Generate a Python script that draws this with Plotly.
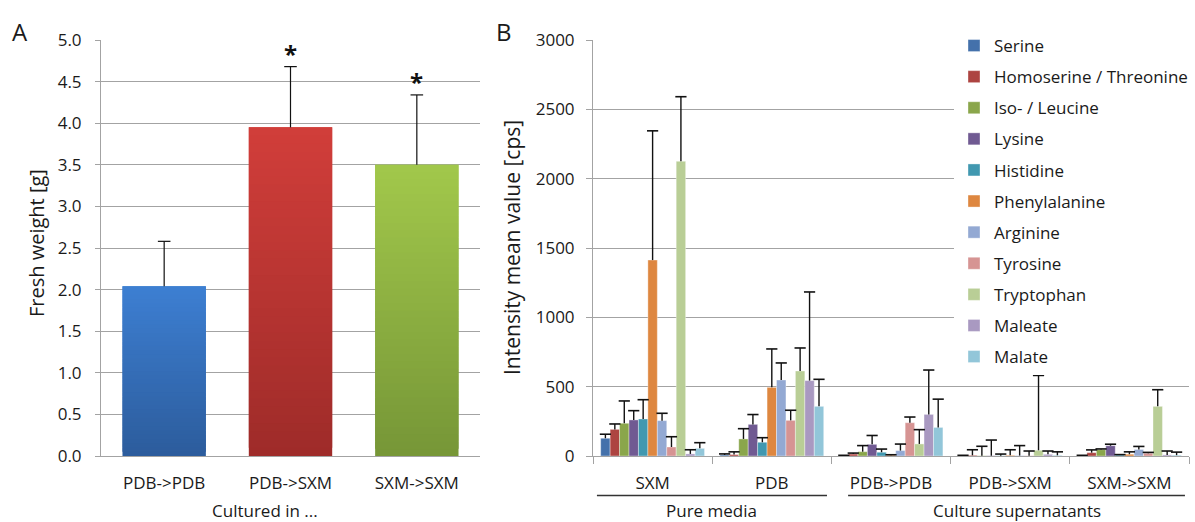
import plotly.graph_objects as go

W, H = 1195, 522
FONT = "Open Sans"

# ---------------- Panel A data ----------------
a_categories = ["PDB->PDB", "PDB->SXM", "SXM->SXM"]
a_values = [2.04, 3.95, 3.50]
a_errors = [0.54, 0.73, 0.84]
a_stars = ["", "*", "*"]
a_top_colors = ["#3d7fd2", "#d13e3a", "#a2c84b"]
a_bottom_colors = ["#2c5c9c", "#9e2b29", "#769637"]

# ---------------- Panel B data ----------------
b_groups = ["SXM", "PDB", "PDB->PDB", "PDB->SXM", "SXM->SXM"]
b_series = ["Serine", "Homoserine / Threonine", "Iso- / Leucine", "Lysine", "Histidine",
            "Phenylalanine", "Arginine", "Tyrosine", "Tryptophan", "Maleate", "Malate"]
b_colors = ["#4471ab", "#ad4441", "#8aa64b", "#705a92", "#4198b0", "#de8740",
            "#93a9d3", "#d69493", "#b9ce96", "#a999c1", "#92c6d9"]
# values per series, in group order
b_values = {
    "Serine":                 [128, 7, 3, 2, 3],
    "Homoserine / Threonine": [192, 10, 14, 5, 24],
    "Iso- / Leucine":         [236, 123, 31, 2, 46],
    "Lysine":                 [260, 228, 84, 2, 74],
    "Histidine":              [267, 99, 27, 2, 7],
    "Phenylalanine":          [1413, 495, 6, 5, 13],
    "Arginine":               [255, 548, 39, 3, 47],
    "Tyrosine":               [65, 257, 240, 2, 20],
    "Tryptophan":             [2125, 613, 87, 41, 358],
    "Maleate":                [15, 544, 300, 12, 8],
    "Malate":                 [55, 358, 206, 5, 6],
}
b_errors = {
    "Serine":                 [29, 8, 2, 3, 2],
    "Homoserine / Threonine": [39, 20, 7, 40, 20],
    "Iso- / Leucine":         [161, 74, 44, 68, 5],
    "Lysine":                 [67, 71, 64, 113, 11],
    "Histidine":              [139, 33, 23, 12, 3],
    "Phenylalanine":          [932, 277, 3, 40, 17],
    "Arginine":               [53, 123, 47, 72, 22],
    "Tyrosine":               [74, 73, 41, 34, 6],
    "Tryptophan":             [466, 166, 103, 540, 120],
    "Maleate":                [30, 639, 320, 24, 28],
    "Malate":                 [41, 195, 204, 25, 22],
}
b_tier_labels = ["Pure media", "Culture supernatants"]

# ---------------- helpers ----------------
def px(x):
    return x / W

def py(y):
    return 1 - y / H

def hex2rgb(h):
    h = h.lstrip("#")
    return tuple(int(h[i:i + 2], 16) for i in (0, 2, 4))

def mix(c1, c2, t):
    a, b = hex2rgb(c1), hex2rgb(c2)
    return "rgb(%d,%d,%d)" % tuple(round(a[i] + (b[i] - a[i]) * t) for i in range(3))

GRID = "#a3a3a3"
TXT = "#1a1a1a"

fig = go.Figure()

# ---- Panel A: gradient bars built from overlapping stacked slices of each value ----
N = 40
seg_x, seg_y, seg_base, seg_col = [], [], [], []
for cat, v, ct, cb in zip(a_categories, a_values, a_top_colors, a_bottom_colors):
    for k in range(N):
        seg_x.append(cat)
        # each slice reaches into the next one, which is drawn over it (no seams)
        seg_y.append(v / N * (2 if k < N - 1 else 1))
        seg_base.append(v * k / N)
        seg_col.append(mix(cb, ct, (k + 0.5) / N))
fig.add_trace(go.Bar(x=seg_x, y=seg_y, base=seg_base, marker=dict(color=seg_col, line=dict(width=0)),
                     xaxis="x", yaxis="y", showlegend=False, hoverinfo="skip"))
# error bars (upper only)
a_tops = [v + e for v, e in zip(a_values, a_errors)]
fig.add_trace(go.Scatter(
    x=a_categories, y=a_tops, mode="markers", cliponaxis=False,
    marker=dict(symbol="line-ew", size=9, line=dict(width=1.2, color="#111")),
    error_y=dict(type="data", symmetric=False, array=[0] * 3, arrayminus=a_errors,
                 width=0, thickness=1.2, color="#111"),
    xaxis="x", yaxis="y", showlegend=False, hoverinfo="skip"))

# ---- Panel B: grouped bars on a numeric axis ----
n_s = len(b_series)
bw = 0.0792
cap_x, cap_y, cap_e = [], [], []
for i, s in enumerate(b_series):
    xs = [g + (i - (n_s - 1) / 2) * bw for g in range(len(b_groups))]
    fig.add_trace(go.Bar(x=xs, y=b_values[s], width=bw, name=s, legendgroup=s,
                         marker=dict(color=b_colors[i], line=dict(width=0.6, color="rgba(255,255,255,0.6)")),
                         xaxis="x2", yaxis="y2", hoverinfo="skip"))
    for xv, v, e in zip(xs, b_values[s], b_errors[s]):
        cap_x.append(xv)
        cap_y.append(v + e)
        cap_e.append(e)
fig.add_trace(go.Scatter(
    x=cap_x, y=cap_y, mode="markers",
    marker=dict(symbol="line-ew", size=8, line=dict(width=1.6, color="#111")),
    error_y=dict(type="data", symmetric=False, array=[0] * len(cap_e), arrayminus=cap_e,
                 width=0, thickness=1.4, color="#111"),
    xaxis="x2", yaxis="y2", showlegend=False, hoverinfo="skip"))

ydom = [py(456), py(40)]
axis_common = dict(linecolor=GRID, linewidth=1, zeroline=False, automargin=False,
                   tickfont=dict(family=FONT, size=17, color=TXT))

fig.update_layout(
    width=W, height=H, margin=dict(l=0, r=0, t=0, b=0, autoexpand=False),
    paper_bgcolor="white", plot_bgcolor="white",
    barmode="overlay", bargap=0.34,
    font=dict(family=FONT, color=TXT),
    xaxis=dict(domain=[px(101), px(480)], type="category", range=[-0.5, 2.5],
               showline=True, showgrid=False, ticks="", ticklabelstandoff=12, anchor="y",
               **axis_common),
    yaxis=dict(domain=ydom, range=[0, 5], dtick=0.5, tickformat=".1f", showline=True, showgrid=True,
               gridcolor=GRID, gridwidth=1,
               ticks="outside", ticklen=5, tickcolor=GRID, ticklabelstandoff=10, anchor="x",
               **axis_common),
    xaxis2=dict(domain=[px(593), px(1189)], range=[-0.5, 4.5], tickmode="array",
                tickvals=list(range(len(b_groups))), ticktext=b_groups, ticks="",
                minor=dict(ticks="outside", tick0=-0.5, dtick=1, ticklen=7, tickcolor=GRID, showgrid=False),
                showline=True, showgrid=False, ticklabelstandoff=12, anchor="y2",
                **axis_common),
    yaxis2=dict(domain=ydom, range=[0, 3000], dtick=500, showline=True, showgrid=True,
                gridcolor=GRID, gridwidth=1,
                ticks="outside", ticklen=6, tickcolor=GRID, ticklabelstandoff=8, anchor="x2",
                **axis_common),
    legend=dict(x=px(954), y=py(28), xanchor="left", yanchor="top", bgcolor="white",
                font=dict(family=FONT, size=17, color=TXT), tracegroupgap=6,
                traceorder="grouped", itemclick=False),
)

tier_font = dict(family=FONT, size=17, color=TXT)
annotations = [
    dict(text="A", x=px(10), y=py(31), xanchor="left", yanchor="middle", font=dict(family=FONT, size=24, color=TXT)),
    dict(text="B", x=px(494), y=py(31), xanchor="left", yanchor="middle", font=dict(family=FONT, size=24, color=TXT)),
    dict(text="Cultured in ...", x=px(265), y=py(510), xanchor="center", yanchor="middle", font=tier_font),
    dict(text="Fresh weight [g]", x=px(37), y=py(243), textangle=-90, xanchor="center", yanchor="middle",
         font=dict(family=FONT, size=20, color=TXT)),
    dict(text="Intensity mean value [cps]", x=px(512), y=py(247), textangle=-90, xanchor="center", yanchor="middle",
         font=dict(family=FONT, size=21, color=TXT)),
]
# significance stars above the error bars
for i, (star, top) in enumerate(zip(a_stars, a_tops)):
    if star:
        annotations.append(dict(text="<b>%s</b>" % star, x=i, y=top, xref="x", yref="y",
                                xanchor="center", yanchor="middle", yshift=13,
                                font=dict(family=FONT, size=24, color="#111")))
# tier labels under the group labels
tiers = [(b_tier_labels[0], -0.467, 1.463), (b_tier_labels[1], 1.64, 4.466)]
shapes = []
for lab, l0, l1 in tiers:
    annotations.append(dict(text=lab, x=(l0 + l1) / 2, xref="x2", y=py(510), yref="paper",
                            xanchor="center", yanchor="middle", font=tier_font))
    shapes.append(dict(type="line", xref="x2", yref="paper", x0=l0, x1=l1, y0=py(495.5), y1=py(495.5),
                       line=dict(color="#333", width=1.3)))
for a in annotations:
    a.setdefault("xref", "paper")
    a.setdefault("yref", "paper")
    a["showarrow"] = False
fig.update_layout(annotations=annotations, shapes=shapes)

fig.write_html("out.html")
